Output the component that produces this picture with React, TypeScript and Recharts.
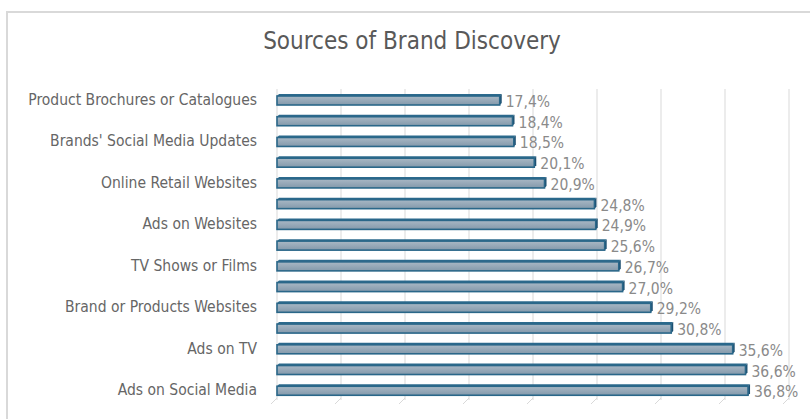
import React from 'react';
import { BarChart, Bar, XAxis, YAxis, CartesianGrid, LabelList } from 'recharts';

// top to bottom, as in the source chart (only every other label is shown there)
const categories = [
  'Product Brochures or Catalogues',
  'Print Ads',
  "Brands' Social Media Updates",
  'Celebrity Endorsements',
  'Online Retail Websites',
  'Consumer Review Sites',
  'Ads on Websites',
  'In-Store Displays',
  'TV Shows or Films',
  'Recommendations from Friends',
  'Brand or Products Websites',
  'Word of Mouth',
  'Ads on TV',
  'Search Engines',
  'Ads on Social Media',
];

const shares = [
  0.174, 0.184, 0.185, 0.201, 0.209, 0.248, 0.249, 0.256,
  0.267, 0.27, 0.292, 0.308, 0.356, 0.366, 0.368,
];

const xTicks = [0, 0.05, 0.1, 0.15, 0.2, 0.25, 0.3, 0.35, 0.4];

const data = categories.map((name, i) => ({ name, share: shares[i] }));

const FONT = '"DejaVu Sans Condensed", "Liberation Sans", sans-serif';

const fmt = (v: number) => (v * 100).toFixed(1).replace('.', ',') + '%';

// bar with a small top and right face, like Excel's 3-D bars
const Bar3D = (props: any) => {
  const { x, y, width, height } = props;
  const d = 2;
  const top = y + d;
  const h = height - d;
  return (
    <g>
      <polygon
        points={`${x},${top} ${x + d},${y} ${x + width + d},${y} ${x + width},${top}`}
        fill="#2c6a8d"
      />
      <polygon
        points={`${x + width},${top} ${x + width + d},${y} ${x + width + d},${y + h} ${x + width},${top + h}`}
        fill="#1d4f70"
      />
      <rect x={x} y={top} width={width} height={h} fill="url(#barFill)" stroke="#2a6789" strokeWidth={1.6} />
    </g>
  );
};

const ValueLabel = (props: any) => {
  const { x, y, width, height, value } = props;
  return (
    <text
      x={x + width + 6}
      y={y + height / 2 + 3}
      fill="#8a8a8a"
      fontSize={15.5}
      fontFamily={FONT}
      dominantBaseline="middle"
    >
      {fmt(value)}
    </text>
  );
};

const FloorTick = (props: any) => {
  const { x, y } = props;
  return <line x1={x} y1={y - 2} x2={x - 6} y2={y + 4} stroke="#d9d9d9" strokeWidth={1} />;
};

export default function App() {
  return (
    <div style={{ position: 'relative', width: 810, height: 419, overflow: 'hidden', background: '#fff' }}>
      <style>{'body{margin:0;overflow:hidden}'}</style>
      <div
        style={{
          position: 'absolute',
          left: 6,
          top: 11,
          width: 840,
          height: 440,
          border: '2px solid #d9d9d9',
          boxSizing: 'border-box',
        }}
      />
      <div
        style={{
          position: 'absolute',
          left: 0,
          width: 824,
          top: 27,
          textAlign: 'center',
          fontFamily: FONT,
          fontSize: 24,
          color: '#595959',
        }}
      >
        Sources of Brand Discovery
      </div>
      <div style={{ position: 'absolute', left: 0, top: 0 }}>
        <BarChart
          width={810}
          height={419}
          data={data}
          layout="vertical"
          margin={{ top: 89, right: 21, bottom: 9, left: 0 }}
          barSize={11}
        >
          <defs>
            <linearGradient id="barFill" x1="0" y1="0" x2="0" y2="1">
              <stop offset="0%" stopColor="#a9b8c5" />
              <stop offset="100%" stopColor="#8399ab" />
            </linearGradient>
          </defs>
          <CartesianGrid horizontal={false} stroke="#d9d9d9" />
          <XAxis
            type="number"
            domain={[0, 0.4]}
            ticks={xTicks}
            height={10}
            axisLine={false}
            tickLine={false}
            tickSize={0}
            tickMargin={0}
            tick={<FloorTick />}
          />
          <YAxis
            type="category"
            dataKey="name"
            width={277}
            interval={1}
            axisLine={false}
            tickLine={false}
            tickSize={0}
            tickMargin={20}
            tick={{ fill: '#666666', fontSize: 15.5, fontFamily: FONT }}
          />
          <Bar dataKey="share" shape={<Bar3D />} isAnimationActive={false}>
            <LabelList dataKey="share" content={<ValueLabel />} />
          </Bar>
        </BarChart>
      </div>
    </div>
  );
}
